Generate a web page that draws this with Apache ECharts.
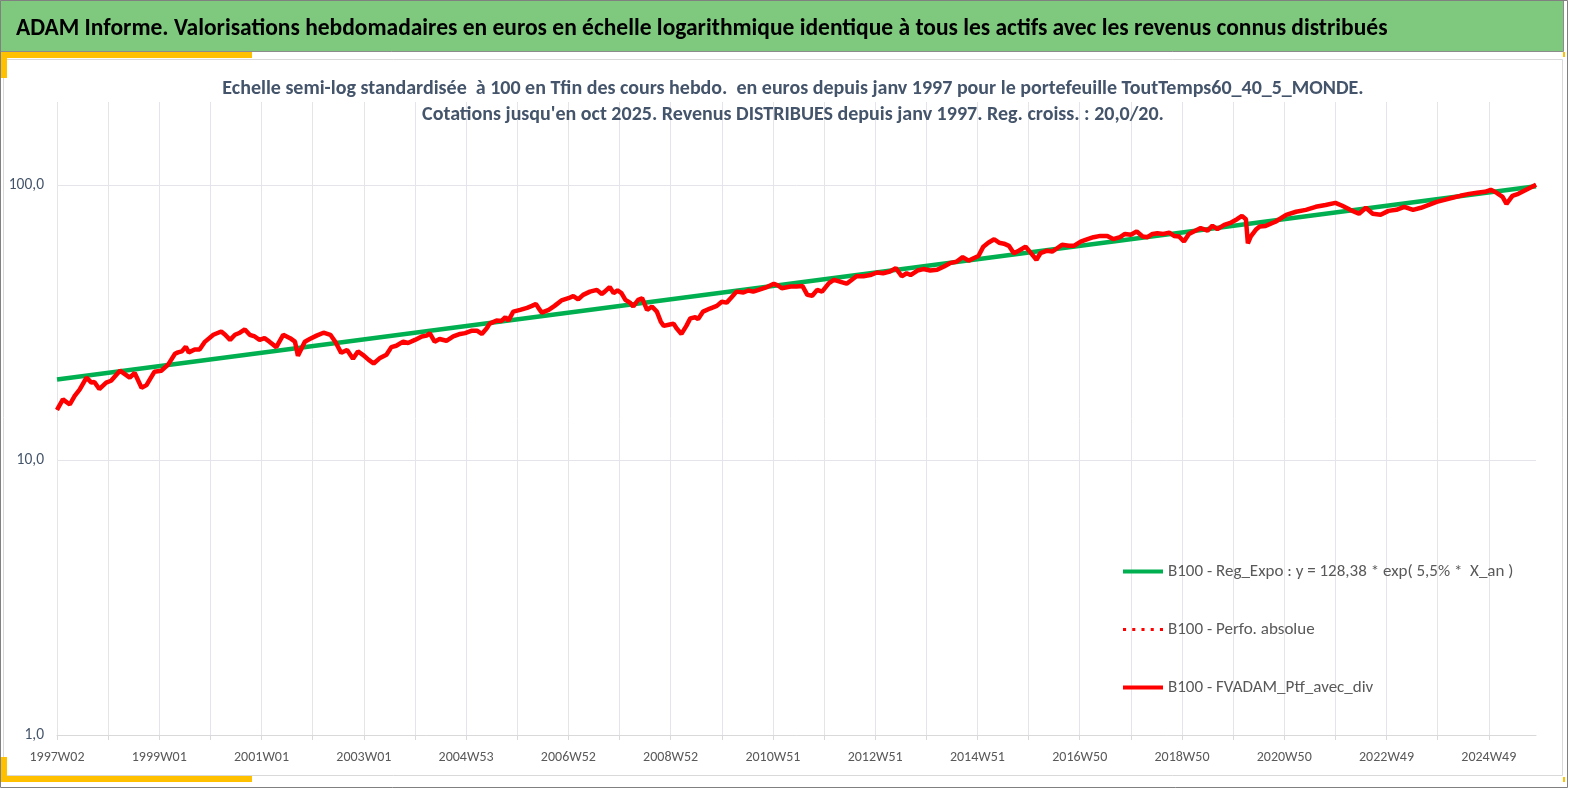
<!DOCTYPE html>
<html>
<head>
<meta charset="utf-8">
<script src="https://cdn.jsdelivr.net/npm/echarts@6/dist/echarts.min.js"></script>
<style>
html,body{margin:0;padding:0;background:#fff;}
#chart{width:1569px;height:789px;}
</style>
</head>
<body>
<div id="chart"></div>
<script>
// ---------- DATA ----------
const mainTitle = "ADAM Informe. Valorisations hebdomadaires en euros en échelle logarithmique identique à tous les actifs avec les revenus connus distribués";
const subTitle = "Echelle semi-log standardisée  à 100 en Tfin des cours hebdo.  en euros depuis janv 1997 pour le portefeuille ToutTemps60_40_5_MONDE.\nCotations jusqu'en oct 2025. Revenus DISTRIBUES depuis janv 1997. Reg. croiss. : 20,0/20.";
const seriesNames = [
  "B100 - Reg_Expo : y = 128,38 * exp( 5,5% *  X_an )",
  "B100 - Perfo. absolue",
  "B100 - FVADAM_Ptf_avec_div"
];
const nWeeks = 1505;              // weekly quotes from 1997W02 to oct 2025
const firstWeekThursdayUTC = [1997, 0, 9];
const xTickLabels = ["1997W02","1999W01","2001W01","2003W01","2004W53","2006W52","2008W52","2010W51","2012W51","2014W51","2016W50","2018W50","2020W50","2022W49","2024W49"];
const yTickValues = [1, 10, 100];

// weeks elapsed since 1997W02 for each read point of the portfolio line
const redWeeks = [0,6,13,18,23,30,35,38,43,50,55,64,74,79,86,91,94,99,106,113,120,123,127,131,134,140,145,150,159,167,171,176,181,186,191,196,201,206,211,216,223,230,237,242,245,252,257,264,271,278,283,289,295,301,306,311,317,322,328,335,340,345,352,357,364,371,376,379,384,389,396,403,410,415,422,427,432,437,440,447,452,456,459,464,471,478,483,487,491,493,500,506,513,520,525,530,535,542,549,554,557,562,566,570,574,578,583,586,591,595,600,605,610,614,617,622,627,630,635,640,644,649,652,657,664,671,676,681,686,691,698,703,708,715,722,729,734,737,746,752,758,763,768,773,778,785,790,796,803,808,813,820,827,834,840,847,853,859,864,868,875,881,888,895,902,908,915,921,927,932,937,942,947,953,958,963,968,973,978,985,990,996,1000,1007,1012,1017,1022,1029,1034,1041,1048,1054,1061,1068,1074,1081,1086,1092,1098,1104,1109,1114,1119,1125,1131,1136,1141,1146,1151,1156,1163,1170,1175,1180,1187,1194,1200,1205,1209,1211,1214,1219,1223,1229,1239,1250,1260,1270,1280,1290,1300,1307,1315,1324,1331,1338,1346,1354,1362,1370,1379,1387,1395,1403,1411,1419,1427,1436,1444,1452,1458,1464,1470,1474,1480,1486,1492,1498,1504];
const redValues = [15.2,16.6,15.9,17.1,18.0,19.9,19.1,19.2,18.1,19.1,19.4,21.1,19.9,20.7,18.3,18.7,19.5,20.9,21.1,22.2,24.3,24.6,24.8,25.8,24.6,25.2,25.2,26.8,28.5,29.3,28.5,27.3,28.5,29.0,29.8,28.5,28.1,27.3,27.7,26.9,25.7,28.5,27.7,26.9,23.9,26.9,27.5,28.3,29.0,28.5,26.9,24.5,25.1,23.3,24.8,24.1,23.1,22.4,23.4,24.1,25.7,26.0,26.9,26.6,27.3,28.1,28.3,28.9,26.9,27.5,27.1,28.1,28.7,28.9,29.5,29.5,28.7,30.1,31.3,32.1,32.0,33.0,32.1,34.6,35.1,35.7,36.3,36.9,35.1,34.3,35.1,36.3,38.0,38.7,39.4,38.3,39.8,40.9,41.5,40.1,40.9,42.5,40.4,41.3,40.4,38.2,37.2,36.1,38.2,38.7,35.1,36.1,34.6,31.8,30.7,31.0,31.3,30.1,28.7,30.7,32.7,33.0,32.5,34.6,35.5,36.3,37.6,37.3,39.0,40.9,40.6,41.3,40.9,41.7,42.5,43.7,42.9,42.1,42.7,42.7,42.9,39.8,39.5,41.5,40.9,43.9,45.1,44.5,43.7,45.1,46.5,46.5,47.0,48.0,47.7,48.4,49.8,46.5,47.7,47.0,48.8,49.4,48.8,49.1,50.5,51.9,52.6,54.6,53.0,54.1,55.1,59.6,61.6,63.4,61.6,61.1,60.0,56.4,57.6,59.6,56.7,53.4,56.4,57.6,57.2,58.8,60.5,60.0,60.0,62.2,63.5,64.5,65.2,65.2,63.5,64.5,66.3,65.8,67.7,64.9,64.5,66.3,66.7,66.3,67.0,65.2,64.9,62.2,66.3,67.7,69.6,68.2,71.0,69.0,71.5,72.9,75.0,77.1,75.0,61.3,64.9,68.6,70.5,70.9,73.4,77.8,79.8,81.1,83.2,84.5,86.0,83.9,81.1,78.5,82.5,78.5,77.8,80.4,81.1,83.2,81.1,82.5,84.5,86.7,88.2,89.7,91.2,92.7,93.5,94.3,95.9,93.5,90.4,85.3,91.2,92.7,95.1,97.5,100.0];

// regression line read at both ends (straight on the log scale)
const greenWeeks = [0, 1504];
const greenValues = [19.6, 98.8];

// ---------- BUILD ----------
function isoWeekLabels(n) {
  const out = [];
  const t0 = Date.UTC(firstWeekThursdayUTC[0], firstWeekThursdayUTC[1], firstWeekThursdayUTC[2]);
  for (let i = 0; i < n; i++) {
    const th = new Date(t0 + i * 7 * 86400000);
    const y = th.getUTCFullYear();
    const doy = Math.round((th.getTime() - Date.UTC(y, 0, 1)) / 86400000);
    const w = Math.floor(doy / 7) + 1;
    out.push(y + "W" + (w < 10 ? "0" + w : w));
  }
  return out;
}
const categories = isoWeekLabels(nWeeks);
const redData = redWeeks.map((w, i) => [w, redValues[i]]);
const greenData = greenWeeks.map((w, i) => [w, greenValues[i]]);

const FONT = 'Carlito, Lato, "Open Sans", sans-serif';
const dottedIcon = 'path://M0,0h3v3h-3zM9,0h3v3h-3zM18,0h3v3h-3zM27,0h3v3h-3zM36,0h3v3h-3z';
const chart = echarts.init(document.getElementById('chart'));

const option = {
  animation: false,
  backgroundColor: '#ffffff',
  textStyle: { fontFamily: FONT },
  title: [
    { text: mainTitle, left: 11, top: 12,
      textStyle: { fontFamily: FONT, fontSize: 23.5, fontWeight: 'bold', color: '#000000' } },
    { text: subTitle, left: 788, textAlign: 'center', top: 71,
      textStyle: { fontFamily: FONT, fontSize: 20, fontWeight: 'bold', color: '#44546A', lineHeight: 26 } }
  ],
  graphic: [
    { type: 'rect', z: 0, shape: { x: 3.5, y: 59.5, width: 1559, height: 716 }, style: { fill: 'none', stroke: '#d9d9d9', lineWidth: 1 } },
    { type: 'rect', z: 1, shape: { x: 0.5, y: 0.5, width: 1563, height: 51 }, style: { fill: '#7fc97f', stroke: '#8c8c8c', lineWidth: 1 } },
    { type: 'rect', z: 2, shape: { x: 0, y: 52, width: 252, height: 6 }, style: { fill: '#ffc000' } },
    { type: 'rect', z: 2, shape: { x: 1, y: 52, width: 6, height: 26 }, style: { fill: '#ffc000' } },
    { type: 'rect', z: 2, shape: { x: 0, y: 776, width: 252, height: 6 }, style: { fill: '#ffc000' } },
    { type: 'rect', z: 2, shape: { x: 1, y: 757, width: 6, height: 25 }, style: { fill: '#ffc000' } },
    { type: 'rect', z: 2, shape: { x: 1563, y: 52, width: 2, height: 5 }, style: { fill: '#ffc000' } },
    { type: 'rect', z: 2, shape: { x: 1563, y: 777, width: 2, height: 5 }, style: { fill: '#ffc000' } },
    { type: 'rect', z: 3, shape: { x: 0.5, y: 0.5, width: 1567, height: 787 }, style: { fill: 'none', stroke: '#808080', lineWidth: 1 } }
  ],
  legend: {
    orient: 'vertical',
    left: 1123, top: 562, padding: 0,
    itemWidth: 40, itemHeight: 4, itemGap: 39,
    textStyle: { fontFamily: FONT, fontSize: 17, color: '#595959', lineHeight: 19 },
    data: [
      { name: seriesNames[0], icon: 'rect' },
      { name: seriesNames[1], icon: dottedIcon },
      { name: seriesNames[2], icon: 'rect' }
    ]
  },
  grid: { left: 57, right: 33, top: 102, bottom: 54, containLabel: false },
  xAxis: {
    type: 'category',
    data: categories,
    boundaryGap: false,
    axisLine: { show: true, lineStyle: { color: '#d9d9d9', width: 1 } },
    axisTick: { show: true, length: 5, interval: (i) => i % 52 === 0, lineStyle: { color: '#d9d9d9' } },
    splitLine: { show: true, interval: (i) => i % 52 === 0, lineStyle: { color: '#e4e4ea', width: 1 } },
    axisLabel: {
      interval: (i) => i % 104 === 0 && xTickLabels.indexOf(categories[i]) >= 0,
      margin: 15, fontSize: 14, color: '#595959', fontFamily: FONT
    }
  },
  yAxis: {
    type: 'log', logBase: 10, min: 1, max: 200,
    axisLine: { show: false },
    axisTick: { show: false },
    splitLine: { show: true, showMaxLine: false, lineStyle: { color: '#e4e4ea', width: 1 } },
    axisLabel: {
      showMaxLabel: false, margin: 13, fontSize: 15.5, color: '#44546A', fontFamily: FONT,
      formatter: (v) => yTickValues.indexOf(Math.round(v)) >= 0 ? Math.round(v).toFixed(1).replace('.', ',') : ''
    }
  },
  series: [
    { name: seriesNames[0], type: 'line', data: greenData, showSymbol: false, symbol: 'none',
      lineStyle: { color: '#00b050', width: 4.5 }, itemStyle: { color: '#00b050' }, z: 2 },
    { name: seriesNames[1], type: 'line', data: redData, showSymbol: false, symbol: 'none',
      lineStyle: { color: '#ff0000', width: 3, type: [3, 5] }, itemStyle: { color: '#ff0000' }, z: 3 },
    { name: seriesNames[2], type: 'line', data: redData, showSymbol: false, symbol: 'none',
      lineStyle: { color: '#ff0000', width: 4.5 }, itemStyle: { color: '#ff0000' }, z: 4 }
  ]
};
chart.setOption(option);
</script>
</body>
</html>
